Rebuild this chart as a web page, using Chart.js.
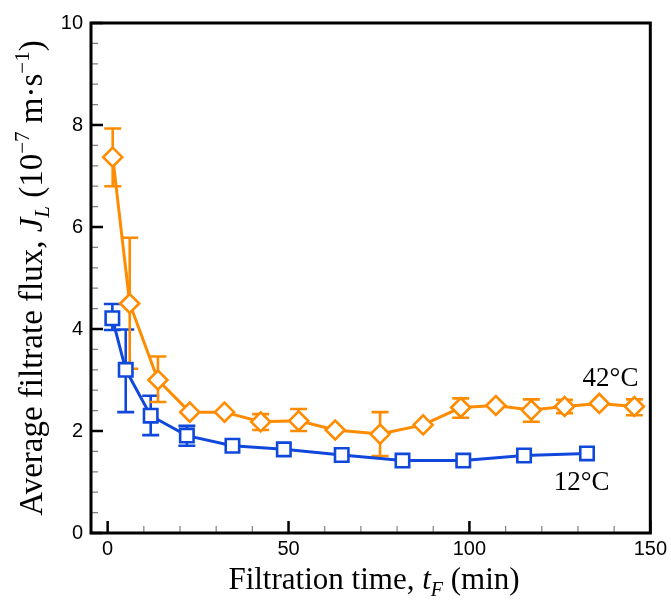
<!DOCTYPE html>
<html>
<head>
<meta charset="utf-8">
<script src="https://cdn.jsdelivr.net/npm/chart.js@4.4.1/dist/chart.umd.min.js"></script>
<style>
html,body{margin:0;padding:0;background:#fff;}
#wrap{width:671px;height:600px;position:relative;}
</style>
</head>
<body>
<div id="wrap"><canvas id="c" width="671" height="600"></canvas></div>
<script>
// ---- data ----
const hotLabel = '42°C';
const hotX  = [1.4, 6.1, 13.9, 22.7, 32.3, 42.3, 52.8, 62.9, 75.3, 87.2, 97.6, 107.3, 117.1, 126.3, 135.9, 145.6];
const hotY  = [7.37, 4.50, 3.00, 2.37, 2.37, 2.18, 2.20, 2.02, 1.94, 2.12, 2.46, 2.50, 2.41, 2.48, 2.54, 2.48];
const hotHi = [7.93, 5.79, 3.46, null, null, 2.33, 2.43, null, 2.37, null, 2.64, null, 2.62, 2.61, null, 2.62];
const hotLo = [6.80, 3.22, 2.57, null, null, 2.02, 2.00, null, 1.51, null, 2.26, null, 2.18, 2.35, null, 2.31];

const coldLabel = '12°C';
const coldX  = [1.3, 5.0, 11.9, 21.9, 34.5, 48.7, 64.7, 81.5, 98.3, 115.1, 132.5];
const coldY  = [4.21, 3.20, 2.30, 1.91, 1.71, 1.64, 1.53, 1.42, 1.42, 1.52, 1.56];
const coldHi = [4.49, 3.99, 2.69, 2.10, null, null, null, null, null, null, null];
const coldLo = [3.98, 2.37, 1.92, 1.71, null, null, null, null, null, null, null];

const xTickValues = [0, 50, 100, 150];
const yTickValues = [0, 2, 4, 6, 8, 10];
const xMinorStep = 10;
const yMinorStep = 0.4;

// label anchor positions in data units
const hotLabelPos  = [139, 3.02];
const coldLabelPos = [131, 0.98];

const ORANGE = '#ff8c00';
const BLUE = '#1048dc';

function pts(xs, ys){ return xs.map((x,i)=>({x:x, y:ys[i]})); }

const errorBarPlugin = {
  id: 'errbars',
  beforeDatasetsDraw(chart){
    const ctx = chart.ctx, xs = chart.scales.x, ys = chart.scales.y;
    const sets = [[coldX, coldHi, coldLo, BLUE], [hotX, hotHi, hotLo, ORANGE]];
    ctx.save();
    ctx.lineWidth = 2.6;
    ctx.lineCap = 'butt';
    for (const [X, H, L, col] of sets){
      ctx.strokeStyle = col;
      for (let i=0;i<X.length;i++){
        if (H[i]==null) continue;
        const px = xs.getPixelForValue(X[i]);
        const ph = ys.getPixelForValue(H[i]);
        const pl = ys.getPixelForValue(L[i]);
        ctx.beginPath();
        ctx.moveTo(px, ph); ctx.lineTo(px, pl);
        ctx.moveTo(px-8.5, ph); ctx.lineTo(px+8.5, ph);
        ctx.moveTo(px-8.5, pl); ctx.lineTo(px+8.5, pl);
        ctx.stroke();
      }
    }
    ctx.restore();
  }
};

function drawRich(ctx, segs, x, y, rot){
  ctx.save();
  ctx.translate(x, y);
  if (rot) ctx.rotate(rot);
  let total = 0;
  for (const s of segs){ ctx.font = s.font; s.w = ctx.measureText(s.t).width; total += s.w; }
  let cx = -total/2;
  ctx.textBaseline = 'alphabetic';
  ctx.textAlign = 'left';
  ctx.fillStyle = '#000';
  for (const s of segs){ ctx.font = s.font; ctx.fillText(s.t, cx, (s.dy||0)); cx += s.w; }
  ctx.restore();
}

const framePlugin = {
  id: 'frame',
  afterDraw(chart){
    const ctx = chart.ctx, a = chart.chartArea, xs = chart.scales.x, ys = chart.scales.y;
    ctx.save();
    // minor ticks
    ctx.strokeStyle = '#808080';
    ctx.lineWidth = 1.2;
    ctx.beginPath();
    for (let v = xMinorStep; v < 150; v += xMinorStep){
      if (v % 50 === 0) continue;
      const p = xs.getPixelForValue(v);
      ctx.moveTo(p, a.bottom); ctx.lineTo(p, a.bottom-7);
    }
    for (let k = 1; k*yMinorStep < 10 - 1e-6; k++){
      const v = k*yMinorStep;
      if (Math.abs(v/2 - Math.round(v/2)) < 1e-6) continue;
      const p = ys.getPixelForValue(v);
      ctx.moveTo(a.left, p); ctx.lineTo(a.left+7, p);
    }
    ctx.stroke();
    // major ticks
    ctx.strokeStyle = '#000';
    ctx.lineWidth = 2.5;
    ctx.beginPath();
    for (const v of xTickValues){
      const p = xs.getPixelForValue(v);
      ctx.moveTo(p, a.bottom); ctx.lineTo(p, a.bottom-12);
    }
    for (const v of yTickValues){
      const p = ys.getPixelForValue(v);
      ctx.moveTo(a.left, p); ctx.lineTo(a.left+12, p);
    }
    ctx.stroke();
    // frame
    ctx.lineWidth = 3;
    ctx.strokeRect(a.left, a.top, a.right-a.left, a.bottom-a.top);
    ctx.restore();

    // series labels
    ctx.save();
    ctx.font = '27px "Liberation Serif", "Times New Roman", serif';
    ctx.fillStyle = '#000';
    ctx.textAlign = 'center';
    ctx.textBaseline = 'middle';
    ctx.fillText(hotLabel, xs.getPixelForValue(hotLabelPos[0]), ys.getPixelForValue(hotLabelPos[1]));
    ctx.fillText(coldLabel, xs.getPixelForValue(coldLabelPos[0]), ys.getPixelForValue(coldLabelPos[1]));
    ctx.restore();

    // axis titles
    const F = '"Liberation Serif", "Times New Roman", serif';
    const n = '31px ' + F, it = 'italic 31px ' + F, smi = 'italic 20px ' + F;
    drawRich(ctx, [
      {t:'Filtration time, ', font:n},
      {t:'t', font:it},
      {t:'F', font:smi, dy:7},
      {t:' (min)', font:n}
    ], 374, 589, 0);
    const n2 = '33px ' + F, it2 = 'italic 33px ' + F, sm2 = '21px ' + F, smi2 = 'italic 21px ' + F;
    drawRich(ctx, [
      {t:'Average filtrate flux, ', font:n2},
      {t:'J', font:it2},
      {t:'L', font:smi2, dy:7},
      {t:' (10', font:n2},
      {t:'\u22127', font:sm2, dy:-13},
      {t:' m\u00b7s', font:n2},
      {t:'\u22121', font:sm2, dy:-13},
      {t:')', font:n2}
    ], 42, 278, -Math.PI/2);
  }
};

new Chart(document.getElementById('c'), {
  type: 'scatter',
  data: {
    datasets: [
      {
        label: hotLabel,
        data: pts(hotX, hotY),
        showLine: true,
        borderColor: ORANGE,
        borderWidth: 3,
        pointStyle: 'rectRot',
        pointRadius: 9.5,
        pointBorderWidth: 2.6,
        pointBorderColor: ORANGE,
        pointBackgroundColor: '#fff'
      },
      {
        label: coldLabel,
        data: pts(coldX, coldY),
        showLine: true,
        borderColor: BLUE,
        borderWidth: 3,
        pointStyle: 'rect',
        pointRadius: 9.5,
        pointBorderWidth: 2.6,
        pointBorderColor: BLUE,
        pointBackgroundColor: '#fff'
      }
    ]
  },
  options: {
    responsive: false,
    animation: false,
    layout: { padding: { top: 23, right: 19, left: 0, bottom: 0 } },
    plugins: { legend: { display: false }, tooltip: { enabled: false } },
    scales: {
      x: {
        type: 'linear', min: -4.6, max: 150,
        afterBuildTicks: s => { s.ticks = xTickValues.map(v => ({value: v})); },
        afterFit: s => { s.height = 67; },
        grid: { display: false, drawTicks: false },
        border: { display: false },
        ticks: { color: '#000', padding: 4, font: { family: '"Liberation Sans", Arial, sans-serif', size: 20 } }
      },
      y: {
        type: 'linear', min: 0, max: 10,
        afterBuildTicks: s => { s.ticks = yTickValues.map(v => ({value: v})); },
        afterFit: s => { s.width = 91; },
        grid: { display: false, drawTicks: false },
        border: { display: false },
        ticks: { color: '#000', padding: 8, font: { family: '"Liberation Sans", Arial, sans-serif', size: 20 } }
      }
    }
  },
  plugins: [errorBarPlugin, framePlugin]
});
</script>
</body>
</html>
